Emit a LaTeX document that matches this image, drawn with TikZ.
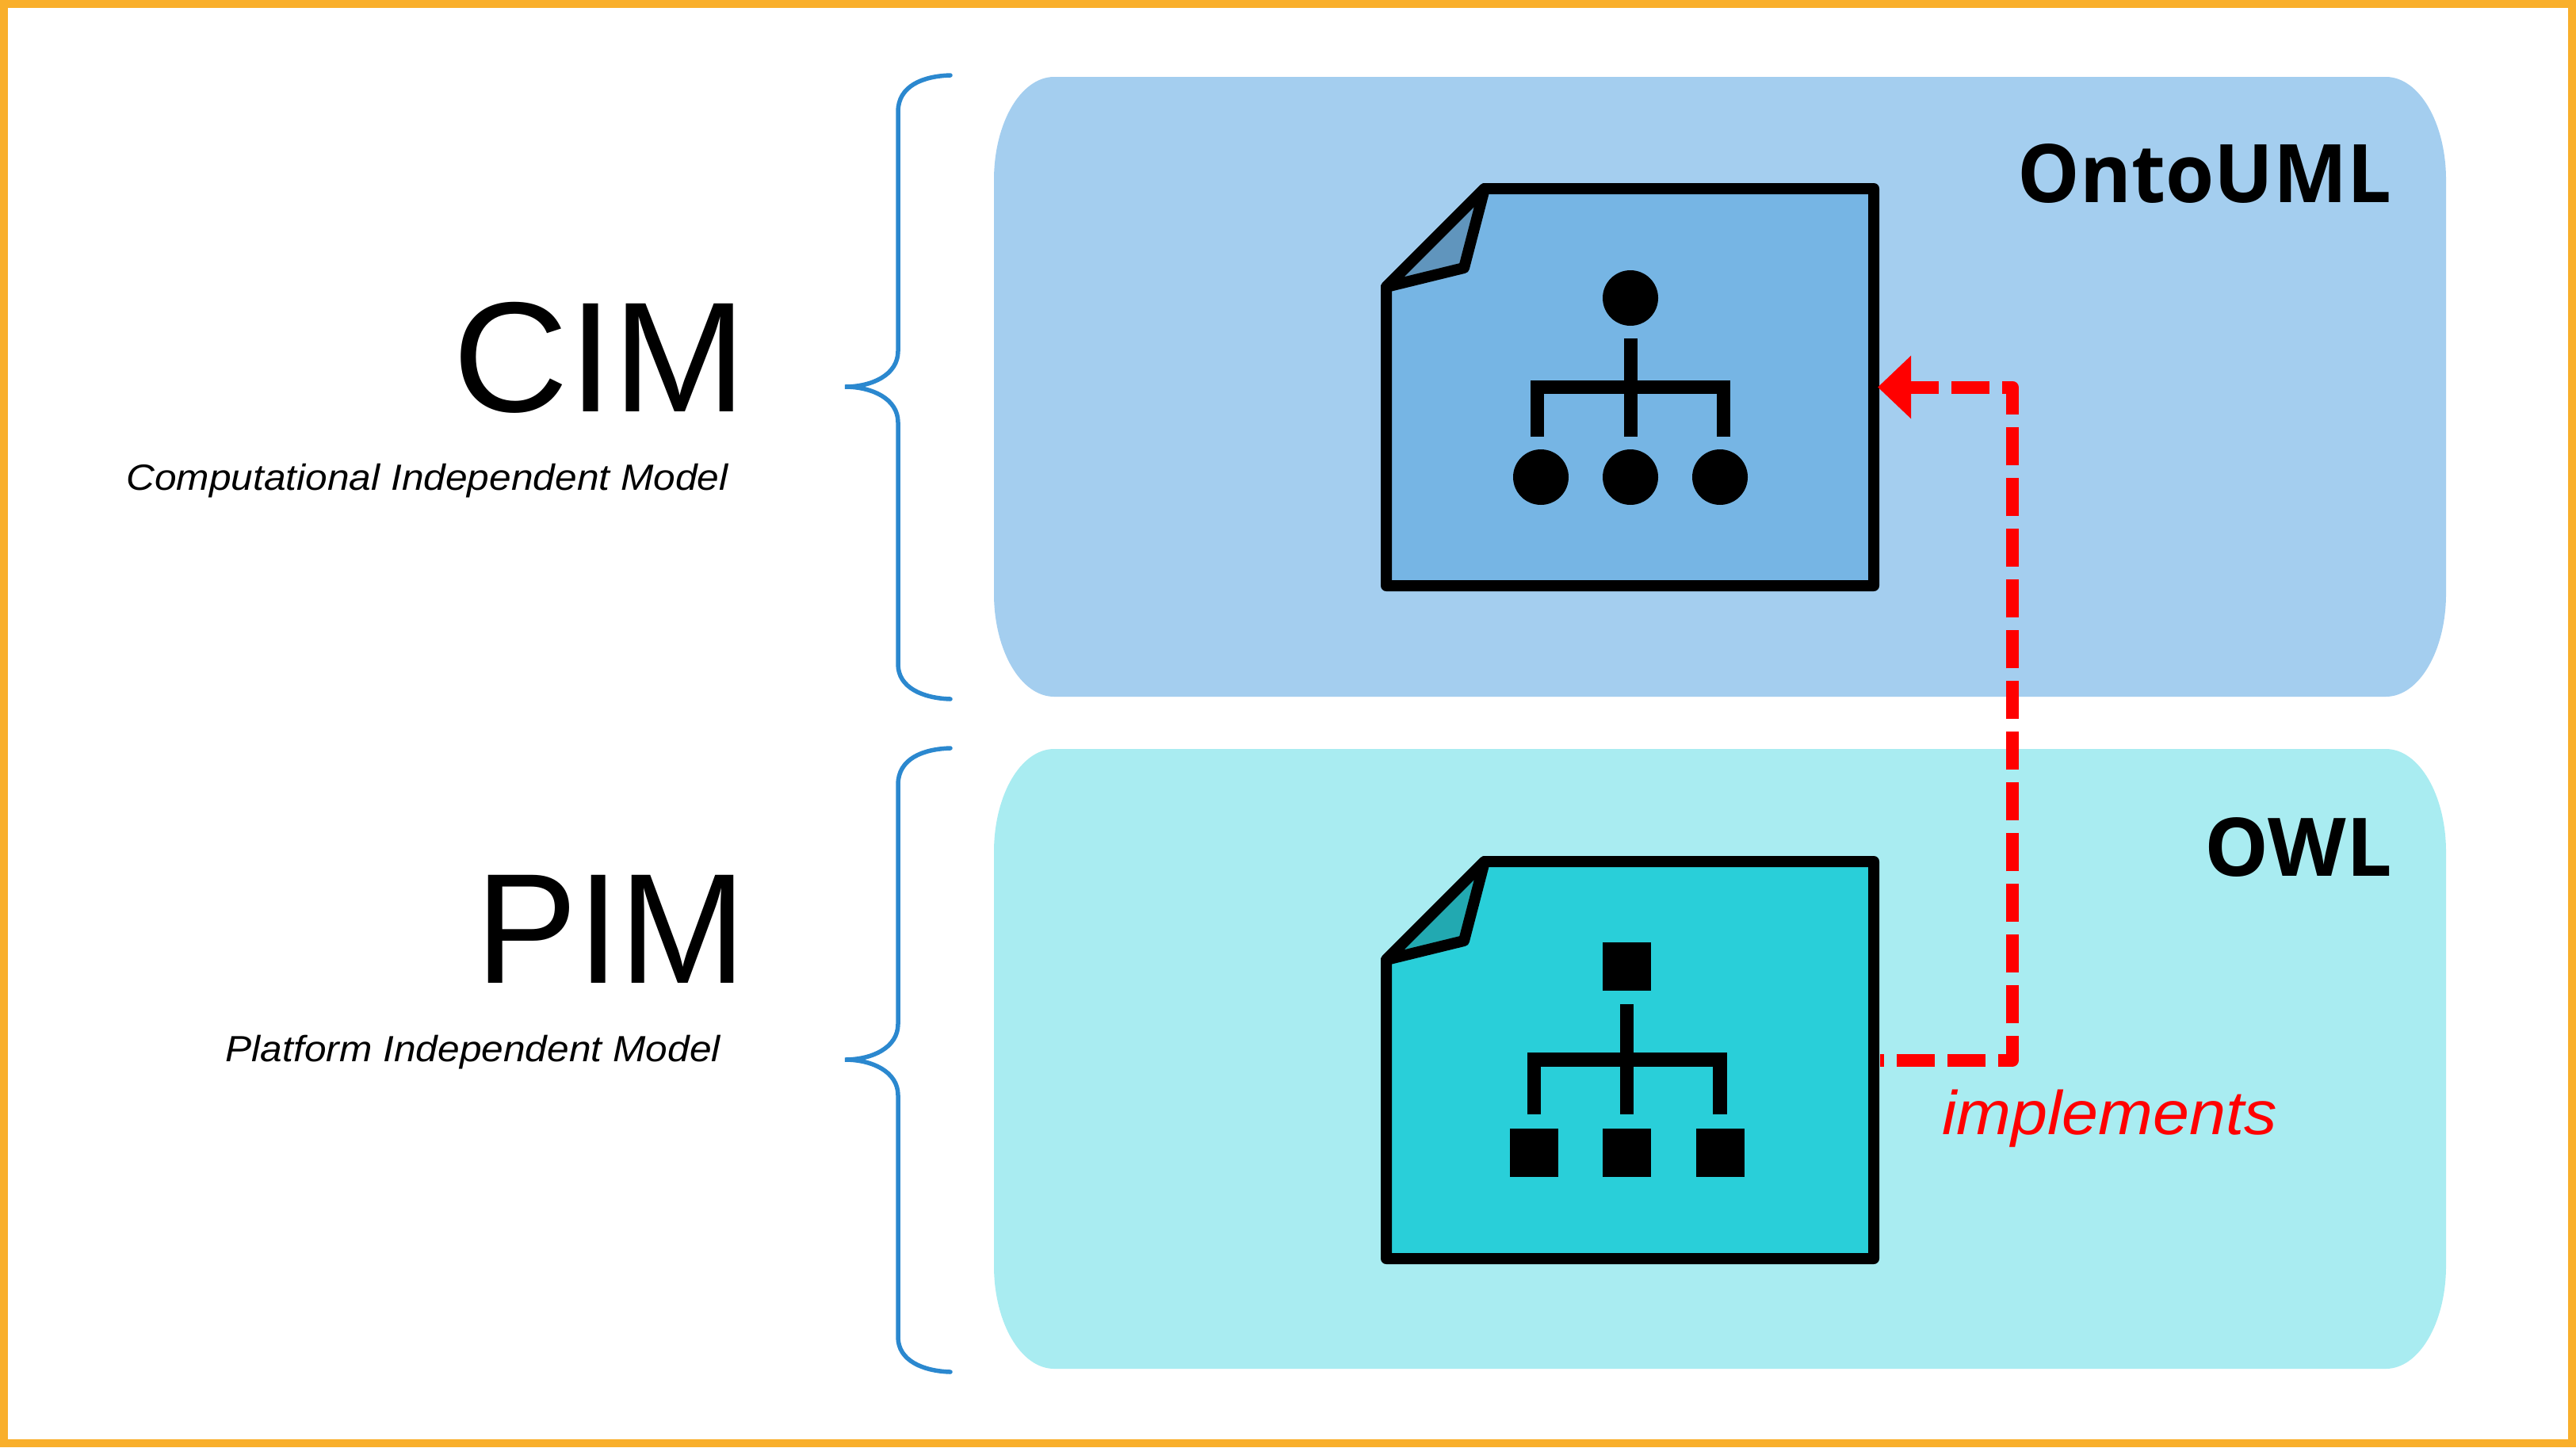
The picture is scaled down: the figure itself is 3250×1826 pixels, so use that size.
\documentclass[tikz,border=0pt]{standalone}
\usepackage{fontspec}
\setmainfont{Liberation Sans}
\newfontfamily\subfam[FakeStretch=1.08]{Liberation Sans}
\newfontfamily\implfam[FakeStretch=1.06]{Liberation Sans}
\newfontfamily\langfam{Open Sans}
\newfontfamily\ontofam[FakeStretch=0.97]{Open Sans}
\usetikzlibrary{arrows.meta}
\definecolor{frameC}{HTML}{F9AF2B}
\definecolor{cimbg}{HTML}{A4CEEF}
\definecolor{pimbg}{HTML}{A9ECF1}
\definecolor{cimdocC}{HTML}{76B5E4}
\definecolor{cimfold}{HTML}{6095BD}
\definecolor{pimdocC}{HTML}{29CFD9}
\definecolor{pimfold}{HTML}{22A9B1}
\definecolor{braceC}{HTML}{2B88CF}
\newcommand{\pxfont}[1]{\fontsize{#1pt}{#1pt}\selectfont}
\newcommand{\bgpanel}[3]{% top, bottom, colour
  \fill[#3] (1254,#1+130) .. controls (1254,#1+58) and (1288,#1) .. (1330,#1)
    -- (3010,#1) .. controls (3052,#1) and (3086,#1+58) .. (3086,#1+130)
    -- (3086,#2-130) .. controls (3086,#2-58) and (3052,#2) .. (3010,#2)
    -- (1330,#2) .. controls (1288,#2) and (1254,#2-58) .. (1254,#2-130) -- cycle;}
\newcommand{\docoutline}[2]{% fill, fold fill
  \draw[docline,fill=#1] (1749,739) -- (1749,362) -- (1873,238) -- (2364,238) -- (2364,739) -- cycle;
  \draw[docline,fill=#2] (1749,362) -- (1873,238) -- (1847,338) -- cycle;}
\newcommand{\bracepath}{%
  \draw[bracestyle] (1199,95) .. controls (1165,96) and (1133,108) .. (1133,141)
    -- (1133,443) .. controls (1133,473) and (1100,488) .. (1066,488)
    .. controls (1100,488) and (1133,503) .. (1133,533)
    -- (1133,838) .. controls (1133,868) and (1165,881) .. (1199,882);}
\tikzset{
  docline/.style={black,line width=14pt,line join=round},
  bracestyle/.style={braceC,line width=5.5pt,line cap=round},
  anchornode/.style={inner sep=0pt,minimum width=630pt,minimum height=515pt},
  implline/.style={red,line width=16pt,line join=round,dash pattern=on 48pt off 16pt,dash phase=43pt},
  bigtitle/.style={anchor=base east,inner sep=0pt,font=\pxfont{198}},
  subtitle/.style={anchor=base east,inner sep=0pt,font=\subfam\pxfont{46}\itshape},
  langtitle/.style={anchor=base east,inner sep=0pt,font=\pxfont{102}\bfseries},
}
\begin{document}
\begin{tikzpicture}[x=1pt,y=-1pt]
\useasboundingbox (0,0) rectangle (3250,1826);
\fill[frameC] (0,0) rectangle (3250,1826);
\fill[white] (10,10) rectangle (3240,1816);
\bgpanel{97}{879}{cimbg}
\bgpanel{945}{1727}{pimbg}
\bracepath
\begin{scope}[shift={(0,849)}]\bracepath\end{scope}
\node[bigtitle] (cimlabel) at (942,519) {\scalebox{1.02}[1]{CIM}};
\node[subtitle] (cimsub) at (919,618) {Computational Independent Model};
\node[bigtitle] (pimlabel) at (942,1240) {\scalebox{0.97}[1]{PIM}};
\node[subtitle] (pimsub) at (909,1339) {Platform Independent Model};
\node[langtitle] (onto) at (3018,255) {\ontofam\bfseries OntoUML};
\node[langtitle] (owl) at (3018,1105) {\langfam\bfseries OWL};
% CIM document
\node[anchornode] (cimdoc) at (2057,488.5) {};
\docoutline{cimdocC}{cimfold}
\fill (2057,376) circle[radius=35];
\fill (1944,602) circle[radius=35];
\fill (2057,602) circle[radius=35];
\fill (2170,602) circle[radius=35];
\fill (2048.5,427) rectangle (2065.5,551);
\fill (1931,480) rectangle (2183,497);
\fill (1931,480) rectangle (1948,551);
\fill (2166,480) rectangle (2183,551);
% PIM document
\node[anchornode] (pimdoc) at (2057,1337.5) {};
\begin{scope}[shift={(0,849)}]\docoutline{pimdocC}{pimfold}\end{scope}
\fill (2022,1189) rectangle (2083,1250);
\fill (1905,1424) rectangle (1966,1485);
\fill (2022,1424) rectangle (2083,1485);
\fill (2140,1424) rectangle (2201,1485);
\fill (2044,1267) rectangle (2061,1406);
\fill (1926.5,1328) rectangle (2179,1346);
\fill (1926.5,1328) rectangle (1944,1406);
\fill (2161,1328) rectangle (2179,1406);
% connector
\coordinate (routeA) at (2539,1335);
\draw[implline,shorten >=-3pt,-{Triangle[length=42pt,width=80pt,line width=0pt,sharp]}] (pimdoc.east) -- (pimdoc.east -| routeA) -- (cimdoc.east -| routeA) -- (cimdoc.east);
\node[anchor=base west,inner sep=0pt,red,font=\implfam\pxfont{78}\itshape] (impl) at (2450,1431) {implements};
\end{tikzpicture}
\end{document}
